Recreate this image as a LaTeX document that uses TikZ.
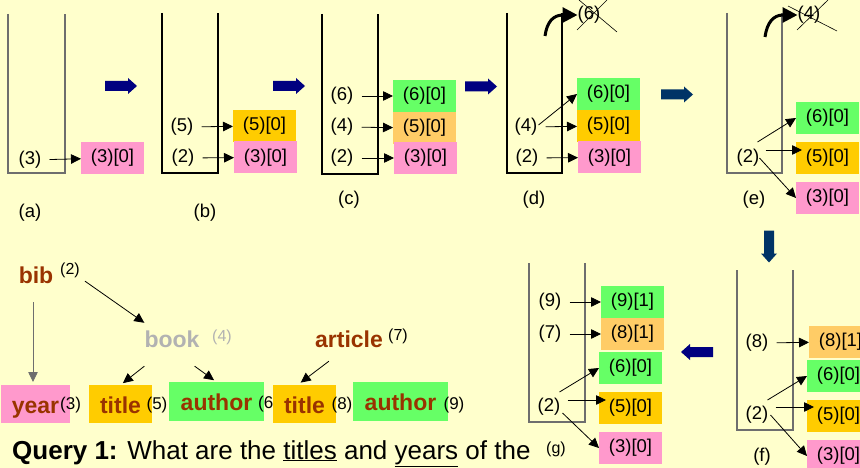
\documentclass[tikz,border=0pt]{standalone}
\usepackage{fontspec}
\setmainfont{Liberation Sans}
\usetikzlibrary{arrows.meta}
\definecolor{bg}{HTML}{FFFFCC}
\definecolor{cpink}{HTML}{FF99CC}
\definecolor{cgold}{HTML}{FFCC00}
\definecolor{corange}{HTML}{FFCC66}
\definecolor{cgreen}{HTML}{66FF66}
\definecolor{cbrown}{HTML}{993300}
\definecolor{cbook}{HTML}{B2B2B2}
\definecolor{cnavy}{HTML}{000080}
\definecolor{cteal}{HTML}{003366}
\definecolor{cwall}{HTML}{6E6E6E}
\tikzset{
  cell/.style={rectangle, minimum width=63pt, minimum height=32pt, inner sep=0pt, outer sep=0pt, font=\fontsize{18.5}{20}\selectfont},
  idx/.style={inner sep=0pt, font=\fontsize{18.5}{20}\selectfont},
  ptr/.style={-{Triangle[length=10pt,width=9.5pt]}, line width=0.8pt},
  hptr/.style={ptr, shorten <=8pt},
  wall/.style={line width=1.2pt},
  pop/.style={line width=3pt, -{Triangle[length=15pt,width=15pt]}},
  tag/.style={font=\fontsize{23}{25}\selectfont\bfseries, text=cbrown, inner sep=0pt, text height=22pt, text depth=4pt},
  leaf/.style={tag, rectangle, minimum width=63pt, minimum height=38pt, outer sep=0pt},
  num/.style={font=\fontsize{17}{19}\selectfont, inner sep=0pt},
  sup/.style={font=\fontsize{16}{18}\selectfont, inner sep=0pt},
  move/.pic={\fill (-16,-5) -- (7,-5) -- (7,-8) -- (16,0) -- (7,8) -- (7,5) -- (-16,5) -- cycle;},
}

\begin{document}
\begin{tikzpicture}[x=1pt, y=-1pt]
	\useasboundingbox (0,0) rectangle (860,468);
	\clip (0,0) rectangle (860,468);
	\fill[bg] (0,0) rectangle (860,468);

	% (a)
	\draw[wall, cwall] (8,14) -- (8,173) -- (65,173) -- (65,14);
	\node[idx] (la3) at (30,160) {(3)};
	\node[cell, fill=cpink] (ba3) at (112.5,158) {(3)[0]};
	\draw[hptr] (la3) -- (ba3);
	\node[idx] (capa) at (30,213) {(a)};
	\pic[cnavy] at (121,86) {move};

	% (b)
	\draw[wall] (162,13) -- (162,173) -- (218,173) -- (218,13);
	\node[idx] (lb5) at (182,127) {(5)};
	\node[idx] (lb2) at (183,158) {(2)};
	\node[cell, fill=cgold] (bb5) at (264.5,126) {(5)[0]};
	\node[cell, fill=cpink] (bb3) at (265.5,157.5) {(3)[0]};
	\draw[hptr] (lb5) -- (bb5);
	\draw[hptr] (lb2) -- (bb3);
	\node[idx] (capb) at (205,213) {(b)};
	\pic[cnavy] at (289,86) {move};

	% (c)
	\draw[wall] (322,14) -- (322,174) -- (378,174) -- (378,14);
	\node[idx] (lc6) at (342,96) {(6)};
	\node[idx] (lc4) at (342,127) {(4)};
	\node[idx] (lc2) at (342,158) {(2)};
	\node[cell, fill=cgreen] (bc6) at (424.5,96) {(6)[0]};
	\node[cell, fill=corange] (bc5) at (424.5,128) {(5)[0]};
	\node[cell, fill=cpink] (bc3) at (425.5,158) {(3)[0]};
	\draw[hptr] (lc6) -- (bc6);
	\draw[hptr] (lc4) -- (bc5);
	\draw[hptr] (lc2) -- (bc3);
	\node[idx] (capc) at (349,200) {(c)};
	\pic[cnavy] at (481,86.5) {move};

	% (d)
	\draw[wall] (507,13) -- (507,173) -- (562,173) -- (562,13);
	\node[idx] (ld4) at (526,127) {(4)};
	\node[idx] (ld2) at (527,158) {(2)};
	\node[cell, fill=cgreen] (bd6) at (608.5,94) {(6)[0]};
	\node[cell, fill=cgold] (bd5) at (608.5,126) {(5)[0]};
	\node[cell, fill=cpink] (bd3) at (609.5,157.5) {(3)[0]};
	\draw[ptr] ([xshift=1pt,yshift=2pt]ld4.east) -- (bd6.west);
	\draw[hptr] (ld4) -- (bd5);
	\draw[hptr] (ld2) -- (bd3);
	\node[idx] (xd6) at (589,15) {(6)};
	\draw[line width=0.6pt] (577,30) -- (607,0);
	\draw[line width=0.6pt] (579,0) -- (617,32);
	\coordinate (popd) at (545,36);
	\draw[pop] (popd) .. controls (547,22) and (553,15) .. (xd6.west);
	\node[idx] (capd) at (534,200) {(d)};
	\pic[cteal] at (677,94.5) {move};

	% (e)
	\draw[wall, cwall] (727,13) -- (727,173) -- (782,173) -- (782,13);
	\node[idx] (le2) at (748,158) {(2)};
	\node[cell, fill=cgreen] (be6) at (827.5,118) {(6)[0]};
	\node[cell, fill=cgold] (be5) at (827.5,158) {(5)[0]};
	\node[cell, fill=cpink] (be3) at (827.5,198) {(3)[0]};
	\draw[ptr] ([xshift=-2pt,yshift=16pt]le2.east) -- (be6.west);
	\draw[ptr] ([xshift=6pt,yshift=8pt]le2.east) -- ([xshift=6pt,yshift=8pt]le2.east -| be5.west);
	\draw[ptr] (le2.east) -- (be3.west);
	\node[idx] (xe4) at (809,15) {(4)};
	\draw[line width=0.6pt] (788,6) -- (837,31);
	\draw[line width=0.6pt] (797,30) -- (828,0);
	\coordinate (pope) at (765,37);
	\draw[pop] (pope) .. controls (767,23) and (773,15) .. (xe4.west);
	\node[idx] (cape) at (754,200) {(e)};
	\pic[cteal, rotate=-90] at (769,246.5) {move};

	% (f)
	\draw[wall, cwall] (737,270) -- (737,430) -- (793,430) -- (793,270);
	\node[idx] (lf8) at (757,343) {(8)};
	\node[idx] (lf2) at (757,415) {(2)};
	\node[cell, fill=corange] (bf8) at (840.5,342) {(8)[1]};
	\node[cell, fill=cgreen] (bf6) at (838.5,376) {(6)[0]};
	\node[cell, fill=cgold] (bf5) at (838.5,416) {(5)[0]};
	\node[cell, fill=cpink] (bf3) at (838.5,456) {(3)[0]};
	\draw[hptr] (lf8) -- (bf8);
	\draw[ptr] ([xshift=-1pt,yshift=15pt]lf2.east) -- (bf6.west);
	\draw[ptr] ([xshift=7pt,yshift=8pt]lf2.east) -- ([xshift=7pt,yshift=8pt]lf2.east -| bf5.west);
	\draw[ptr] ([xshift=2pt]lf2.east) -- (bf3.west);
	\node[idx] (capf) at (762,457) {(f)};
	\pic[cnavy, rotate=180] at (697,352) {move};

	% (g)
	\draw[wall, cwall] (529,263) -- (529,422) -- (585,422) -- (585,263);
	\node[idx] (lg9) at (550,302) {(9)};
	\node[idx] (lg7) at (550,334) {(7)};
	\node[idx] (lg2) at (549,407) {(2)};
	\node[cell, fill=cgreen] (bg9) at (632.5,302) {(9)[1]};
	\node[cell, fill=corange] (bg8) at (632.5,334) {(8)[1]};
	\node[cell, fill=cgreen] (bg6) at (630.5,368) {(6)[0]};
	\node[cell, fill=cgold] (bg5) at (630.5,408) {(5)[0]};
	\node[cell, fill=cpink] (bg3) at (630.5,448) {(3)[0]};
	\draw[hptr] (lg9) -- (bg9);
	\draw[hptr] (lg7) -- (bg8);
	\draw[ptr] ([xshift=-1pt,yshift=15pt]lg2.east) -- (bg6.west);
	\draw[ptr] ([xshift=7pt,yshift=7pt]lg2.east) -- ([xshift=7pt,yshift=7pt]lg2.east -| bg5.west);
	\draw[ptr] ([xshift=2pt,yshift=-6pt]lg2.east) -- (bg3.west);
	\node[sup] (capg) at (556,449) {(g)};

	% document tree
	\node[tag] (bib) at (36,274) {bib};
	\node[sup] (bibn) at (70,270) {(2)};
	\node[tag, text=cbook] (book) at (172,338) {book};
	\node[sup, text=cbook] (bookn) at (222,337) {(4)};
	\node[tag] (art) at (349,338) {article};
	\node[sup] (artn) at (398,336) {(7)};

	\node[leaf, fill=cpink, minimum width=69pt] (year) at (35.5,404) {year};
	\node[num, anchor=west] (yearn) at (60,405) {(3)};
	\node[leaf, fill=cgold] (title1) at (120.5,404) {title};
	\node[num] (title1n) at (157,405) {(5)};
	\node[leaf, fill=cgreen, minimum width=95pt, minimum height=39pt] (auth1) at (216.5,401.5) {author};
	\node[num, anchor=west] (auth1n) at (258,404) {(6)};
	\node[leaf, fill=cgold] (title2) at (304.5,404) {title};
	\node[num] (title2n) at (342,405) {(8)};
	\node[leaf, fill=cgreen, minimum width=95pt, minimum height=39pt] (auth2) at (400.5,401.5) {author};
	\node[num] (auth2n) at (454,405) {(9)};

	\draw[ptr, cwall, shorten <=15pt, shorten >=3pt] ([xshift=-3pt]bib.south) -- ([xshift=-3pt]bib.south |- year.north);
	\draw[ptr, shorten <=6pt] (bibn.south east) -- ([yshift=2pt]book.north west);
	\draw[ptr, shorten >=3pt] ([yshift=-15pt]book.south west) -- (title1.north);
	\draw[ptr, shorten >=3pt] ([xshift=-5pt,yshift=-15pt]book.south east) -- (auth1.north);
	\draw[ptr, shorten >=4pt] ([xshift=14pt,yshift=-10pt]art.south west) -- ([xshift=-7pt]title2.north);

	\node[anchor=base west, inner sep=0pt, font=\fontsize{26}{28}\selectfont] (query) at (12,459)
		{\textbf{Query 1:} What are the \underline{titles} and \underline{years} of the};
\end{tikzpicture}
\end{document}
